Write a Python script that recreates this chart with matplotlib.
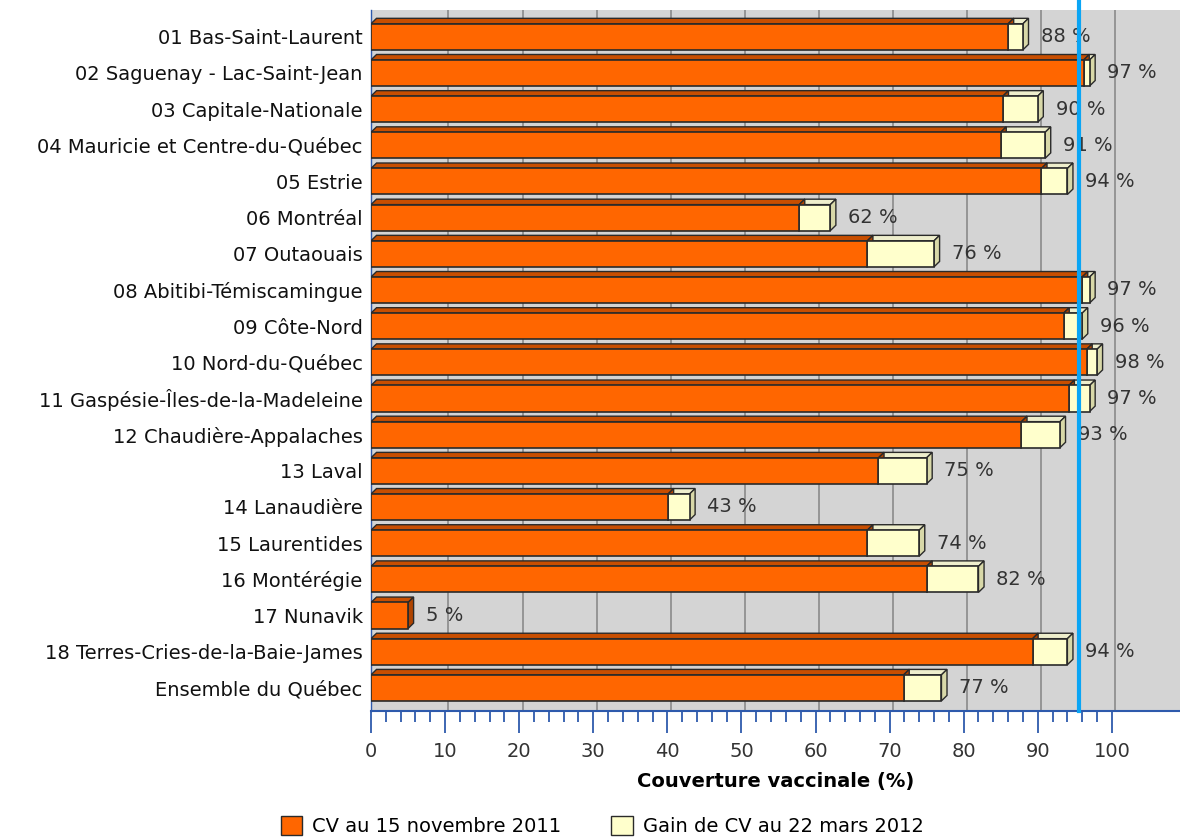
import matplotlib.pyplot as plt
from matplotlib.patches import Polygon, Rectangle

plt.rcParams['font.family'] = ['DejaVu Sans']

regions = [
    "01 Bas-Saint-Laurent",
    "02 Saguenay - Lac-Saint-Jean",
    "03 Capitale-Nationale",
    "04 Mauricie et Centre-du-Québec",
    "05 Estrie",
    "06 Montréal",
    "07 Outaouais",
    "08 Abitibi-Témiscamingue",
    "09 Côte-Nord",
    "10 Nord-du-Québec",
    "11 Gaspésie-Îles-de-la-Madeleine",
    "12 Chaudière-Appalaches",
    "13 Laval",
    "14 Lanaudière",
    "15 Laurentides",
    "16 Montérégie",
    "17 Nunavik",
    "18 Terres-Cries-de-la-Baie-James",
    "Ensemble du Québec",
]
# CV au 15 novembre 2011 (%)
cv_nov2011 = [86, 96.2, 85.3, 85, 90.5, 57.8, 67, 96, 93.5, 96.6,
              94.2, 87.8, 68.5, 40.1, 67, 75, 5, 89.3, 71.9]
# CV totale au 22 mars 2012 (%)
cv_mar2012 = [88, 97, 90, 91, 94, 62, 76, 97, 96, 98,
              97, 93, 75, 43, 74, 82, 5, 94, 77]
target = 95.5

ORANGE = "#FF6600"
ORANGE_TOP = "#C84E00"
ORANGE_SIDE = "#B04400"
YELLOW = "#FFFFCC"
YELLOW_TOP = "#EEEECC"
YELLOW_SIDE = "#D8D8A8"
EDGE = "#2a2a2a"

DX = 0.75   # depth offset in x (data units)
DY = 0.15   # depth offset in y (data units)
H = 0.72    # bar thickness
FS = 14


def bar3d(ax, x0, x1, yc, face, top, side):
    yt = yc - H / 2
    yb = yc + H / 2
    ax.add_patch(Polygon([(x0, yt), (x1, yt), (x1 + DX, yt - DY), (x0 + DX, yt - DY)],
                         closed=True, facecolor=top, edgecolor=EDGE, lw=1, zorder=3))
    ax.add_patch(Polygon([(x1, yt), (x1 + DX, yt - DY), (x1 + DX, yb - DY), (x1, yb)],
                         closed=True, facecolor=side, edgecolor=EDGE, lw=1, zorder=3))
    ax.add_patch(Rectangle((x0, yt), x1 - x0, H, facecolor=face,
                           edgecolor=EDGE, lw=1.2, zorder=4))


fig = plt.figure(figsize=(11.8, 8.38), dpi=100)
ax = fig.add_axes([371 / 1180, 1 - 711 / 838, 1 - 371 / 1180, (711 - 10) / 838])
ax.set_facecolor("#D4D4D4")

n = len(regions)
ax.set_xlim(0, 109.2)
ax.set_ylim(n - 1 + 0.64, -0.74)

for g in range(10, 101, 10):
    ax.axvline(g + DX * 0.6, color="#8a8a8a", lw=1.2, zorder=1)

for i, (a, b) in enumerate(zip(cv_nov2011, cv_mar2012)):
    if b > a + 0.05:
        bar3d(ax, a, b, i, YELLOW, YELLOW_TOP, YELLOW_SIDE)
    bar3d(ax, 0, a, i, ORANGE, ORANGE_TOP, ORANGE_SIDE)
    ax.text(b + 2.4, i, f"{b:.0f} %", va="center", ha="left",
            fontsize=FS, color="#333333", zorder=5)

ax.axvline(target, color="#0AA5F5", lw=3, zorder=6, ymin=0, ymax=1.015, clip_on=False)

ax.set_yticks(range(n))
ax.set_yticklabels(regions, fontsize=FS, color="#111111")
ax.tick_params(axis="y", length=0, pad=6)

ax.set_xticks(range(0, 101, 10))
ax.set_xticks(range(0, 101, 2), minor=True)
ax.tick_params(axis="x", which="major", direction="out", length=16, width=1.3,
               color="#2E5AAC", labelsize=FS, labelcolor="#333333", pad=6)
ax.tick_params(axis="x", which="minor", direction="out", length=8, width=1.3,
               color="#2E5AAC")
ax.set_xlabel("Couverture vaccinale (%)", fontsize=14, fontweight="bold", labelpad=8)

for side in ("top", "right"):
    ax.spines[side].set_visible(False)
ax.spines["left"].set_color("#2E5AAC")
ax.spines["left"].set_linewidth(1)
ax.spines["bottom"].set_color("#2E5AAC")
ax.spines["bottom"].set_linewidth(1.5)

handles = [Rectangle((0, 0), 1, 1, facecolor=ORANGE, edgecolor=EDGE),
           Rectangle((0, 0), 1, 1, facecolor=YELLOW, edgecolor=EDGE)]
fig.legend(handles, ["CV au 15 novembre 2011", "Gain de CV au 22 mars 2012"],
           loc="center", bbox_to_anchor=(602 / 1180, 1 - 826 / 838), ncol=2, frameon=False,
           fontsize=FS, handlelength=1.1, handleheight=1.1, columnspacing=2.6,
           handletextpad=0.5)

fig.savefig("out.png", dpi=100)
